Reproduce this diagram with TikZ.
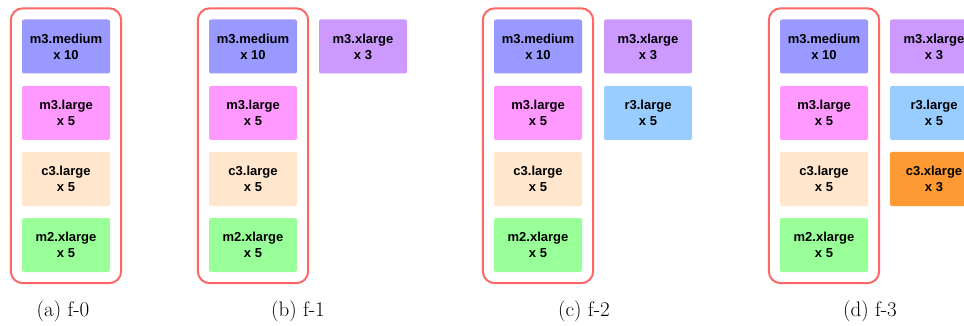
\documentclass[tikz,border=0pt]{standalone}
\usepackage{fontspec}
\setsansfont{Liberation Sans}
\usepackage{xcolor}
\usepackage{tikz}
\usetikzlibrary{positioning,fit}
\definecolor{medblue}{HTML}{9999FF}
\definecolor{lrgpink}{HTML}{FF99FF}
\definecolor{cpeach}{HTML}{FFE6CC}
\definecolor{mgreen}{HTML}{99FF99}
\definecolor{xlpurple}{HTML}{CC99FF}
\definecolor{rblue}{HTML}{99CCFF}
\definecolor{corange}{HTML}{FF9933}
\definecolor{framered}{HTML}{FF6666}
\tikzstyle{none}=[inner sep=0mm]
\tikzstyle{vm}=[rectangle,rounded corners=2pt,minimum width=88pt,minimum height=54pt,inner sep=0pt,align=center,font=\sffamily\bfseries\fontsize{13}{16}\selectfont]
\tikzstyle{med}=[vm,fill=medblue]
\tikzstyle{lrg}=[vm,fill=lrgpink]
\tikzstyle{cl}=[vm,fill=cpeach]
\tikzstyle{mx}=[vm,fill=mgreen]
\tikzstyle{mxl}=[vm,fill=xlpurple]
\tikzstyle{rl}=[vm,fill=rblue]
\tikzstyle{cxl}=[vm,fill=corange]
\tikzstyle{frame}=[draw=framered,line width=2pt,rounded corners=12pt,inner sep=11pt]
\tikzstyle{subcap}=[inner sep=0pt,font=\fontsize{21}{24}\selectfont]

\begin{document}
\begin{tikzpicture}[x=1pt,y=-1pt]
	\useasboundingbox (0,0) rectangle (964,326);
	% (a) f-0
	\node [style=med] (amed) at (66, 46.5) {m3.medium\\x 10};
	\node [style=lrg] (alrg) at (66, 113) {m3.large\\x 5};
	\node [style=cl] (acl) at (66, 179) {c3.large\\x 5};
	\node [style=mx] (amx) at (66, 245) {m2.xlarge\\x 5};
	\node [style=frame, fit=(amed)(amx)] (aframe) {};
	\node [style=subcap] (acap) at (63, 311) {(a) f-0};
	% (b) f-1
	\node [style=med] (bmed) at (253, 46.5) {m3.medium\\x 10};
	\node [style=lrg] (blrg) at (253, 113) {m3.large\\x 5};
	\node [style=cl] (bcl) at (253, 179) {c3.large\\x 5};
	\node [style=mx] (bmx) at (253, 245) {m2.xlarge\\x 5};
	\node [style=frame, fit=(bmed)(bmx)] (bframe) {};
	\node [style=mxl] (bmxl) at (363, 46.5) {m3.xlarge\\x 3};
	\node [style=subcap] (bcap) at (298, 311) {(b) f-1};
	% (c) f-2
	\node [style=med] (cmed) at (538, 46.5) {m3.medium\\x 10};
	\node [style=lrg] (clrg) at (538, 113) {m3.large\\x 5};
	\node [style=cl] (ccl) at (538, 179) {c3.large\\x 5};
	\node [style=mx] (cmx) at (538, 245) {m2.xlarge\\x 5};
	\node [style=frame, fit=(cmed)(cmx)] (cframe) {};
	\node [style=mxl] (cmxl) at (648, 46.5) {m3.xlarge\\x 3};
	\node [style=rl] (crl) at (648, 113) {r3.large\\x 5};
	\node [style=subcap] (ccap) at (584, 311) {(c) f-2};
	% (d) f-3
	\node [style=med] (dmed) at (824, 46.5) {m3.medium\\x 10};
	\node [style=lrg] (dlrg) at (824, 113) {m3.large\\x 5};
	\node [style=cl] (dcl) at (824, 179) {c3.large\\x 5};
	\node [style=mx] (dmx) at (824, 245) {m2.xlarge\\x 5};
	\node [style=frame, fit=(dmed)(dmx)] (dframe) {};
	\node [style=mxl] (dmxl) at (934, 46.5) {m3.xlarge\\x 3};
	\node [style=rl] (drl) at (934, 113) {r3.large\\x 5};
	\node [style=cxl] (dcxl) at (934, 179) {c3.xlarge\\x 3};
	\node [style=subcap] (dcap) at (870, 311) {(d) f-3};
\end{tikzpicture}
\end{document}
